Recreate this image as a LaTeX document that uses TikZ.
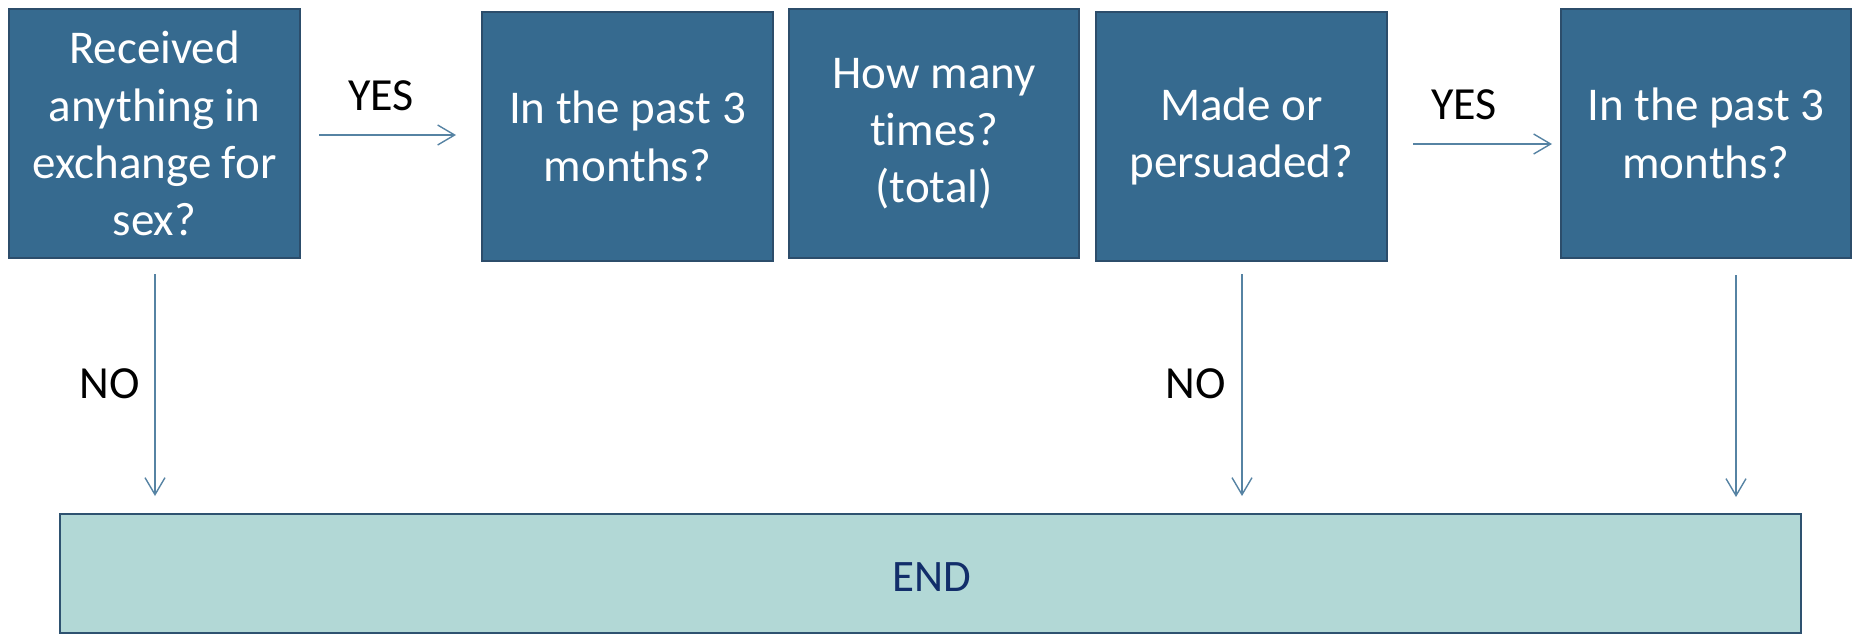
\documentclass[tikz,border=0pt]{standalone}
\usepackage{fontspec}
\setmainfont{Carlito}[Ligatures=NoCommon]
\usetikzlibrary{arrows.meta,calc}
\definecolor{boxfill}{HTML}{366A8F}
\definecolor{boxline}{HTML}{2C4D6B}
\definecolor{endfill}{HTML}{B2D8D6}
\definecolor{endline}{HTML}{2E5270}
\definecolor{endtext}{HTML}{122E6A}
\definecolor{arrcol}{HTML}{5683A3}
\tikzset{
  qbox/.style={draw=boxline, fill=boxfill, line width=2pt, text=white,
    minimum height=249pt, inner sep=0pt, align=center,
    font=\fontsize{47}{57.3}\selectfont},
  endbox/.style={draw=endline, fill=endfill, line width=2pt,
    minimum width=1741pt, minimum height=119pt, inner sep=0pt},
  endlbl/.style={text=endtext, inner sep=0pt, font=\fontsize{45}{54}\selectfont},
  lbl/.style={text=black, inner sep=0pt, font=\fontsize{46}{55}\selectfont},
  arr/.style={draw=arrcol, line width=1.4pt,
    -{Straight Barb[length=17pt,width=20pt,line width=1.4pt]}}
}
\begin{document}
\begin{tikzpicture}[x=1pt,y=-1pt]
\useasboundingbox (0,0) rectangle (1852,635);
\node[qbox, minimum width=291pt] (b1) at (154.5,133.5) {Received\\anything in\\exchange for\\sex?};
\node[qbox, minimum width=291pt] (b2) at (627.5,136.5) {In the past 3\\months?};
\node[qbox, minimum width=290pt] (b3) at (934,133.5) {How many\\times?\\(total)};
\node[qbox, minimum width=291pt] (b4) at (1241.5,136.5) {Made or\\persuaded?};
\node[qbox, minimum width=290pt] (b5) at (1706,133.5) {In the past 3\\months?};
\node[endbox] (end) at (930.5,573.5) {};
\node[endlbl] (endtxt) at ($(end.center)+(1,4)$) {END};

\node[lbl] (yes1) at (381,96) {YES};
\node[lbl] (yes2) at (1464,105) {YES};
\node[lbl] (no1) at (110,384) {NO};
\node[lbl] (no2) at (1196,384) {NO};

\draw[arr] ($(b1.east)+(18,1.5)$) -- ($(b1.east -| b2.west)+(-25,1.5)$);
\draw[arr] ($(b4.east)+(25,7.5)$) -- ($(b4.east -| b5.west)+(-8,7.5)$);
\draw[arr] ($(b1.south)+(0.5,15)$) -- ($(b1.south |- end.north)+(0.5,-17)$);
\draw[arr] ($(b4.south)+(0.5,12)$) -- ($(b4.south |- end.north)+(0.5,-17)$);
\draw[arr] ($(b5.south)+(30,16)$) -- ($(b5.south |- end.north)+(30,-16)$);
\end{tikzpicture}
\end{document}
